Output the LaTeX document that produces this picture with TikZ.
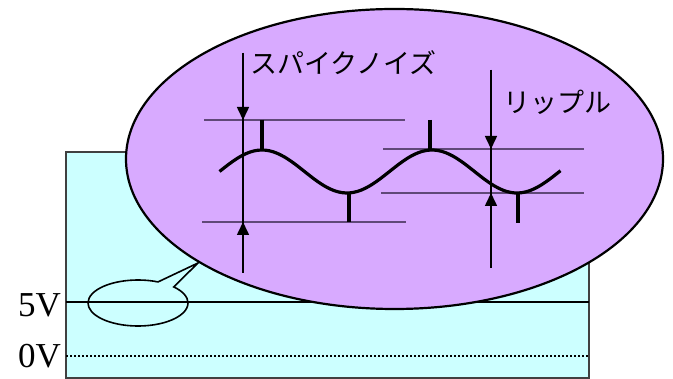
\documentclass[tikz,border=0pt]{standalone}
\usepackage{fontspec}
\setmainfont{Liberation Serif}
\newfontfamily\jpfont{Noto Sans CJK JP}
\usepackage{tikz}
\usetikzlibrary{arrows.meta,shapes.geometric,shapes.callouts}
\definecolor{ns@cyan}{RGB}{204, 255, 255}
\definecolor{ns@violet}{RGB}{216, 170, 255}
\definecolor{ns@level}{RGB}{96, 72, 120}
\definecolor{ns@frame}{RGB}{64, 64, 64}

\begin{document}
\begin{tikzpicture}[x=1pt, y=-1pt,
  board/.style = {draw=ns@frame, fill=ns@cyan, line width=1.6pt},
  rail/.style  = {line width=1.6pt},
  gnd/.style   = {line width=1.6pt, dash pattern=on 1.6pt off 2.4pt},
  lens/.style  = {ellipse, draw, fill=ns@violet, line width=2.2pt, inner sep=0pt,
                  minimum width=537pt, minimum height=300pt},
  loupe/.style = {ellipse callout, draw, line width=1.6pt, inner sep=0pt,
                  minimum width=100pt, minimum height=46pt, callout pointer arc=22},
  level/.style = {draw=ns@level, line width=1.7pt},
  wave/.style  = {line width=3.2pt},
  tick/.style  = {line width=3.6pt},
  dim/.style   = {-{Triangle[length=13pt,width=12pt]}, line width=1.6pt},
  volt/.style  = {font=\fontsize{35}{35}\selectfont, inner sep=0pt, anchor=base east},
  jp/.style    = {font=\jpfont\fontsize{27}{27}\selectfont, inner sep=0pt, anchor=west},
]
  \useasboundingbox (0,0) rectangle (673,379);

  % supply rails
  \draw[board] (66,152) rectangle (589,378);
  \draw[rail] (66,302) -- (589,302);
  \draw[gnd]  (66,356) -- (589,356);
  \node[volt] (v5) at (61,317) {5V};
  \node[volt] (v0) at (61,368) {0V};

  \node[loupe, callout absolute pointer={(198,263)}] (spot) at (138,303) {};
  \node[lens] (lens) at (394.5,159) {};

  % magnified view
  \draw[level] (204,120) -- (405,120);
  \draw[level] (202,222) -- (406,222);
  \draw[level] (383,149) -- (584,149);
  \draw[level] (381,193) -- (584,193);

  \draw[wave] plot[domain=219.5:560.5, samples=90, smooth]
              (\x, {171.5 - 21.5*cos(2.1176*(\x-262))});
  \draw[tick] (262,120) -- (262,150);
  \draw[tick] (349,193) -- (349,222);
  \draw[tick] (430,120) -- (430,150);
  \draw[tick] (518,193) -- (518,223);

  \coordinate (sptop) at (243,53);
  \coordinate (sphi)  at (243,120);
  \coordinate (splo)  at (243,222);
  \coordinate (spbot) at (243,273);
  \coordinate (rptop) at (491,70);
  \coordinate (rphi)  at (491,149);
  \coordinate (rplo)  at (491,193);
  \coordinate (rpbot) at (491,268);

  \draw[rail] (sptop) -- (spbot);
  \draw[dim]  (sptop) -- (sphi);
  \draw[dim]  (spbot) -- (splo);
  \draw[rail] (rptop) -- (rpbot);
  \draw[dim]  (rptop) -- (rphi);
  \draw[dim]  (rpbot) -- (rplo);

  \node[jp] (spike)  at (250,63)  {スパイクノイズ};
  \node[jp] (ripple) at (503,102) {リップル};
\end{tikzpicture}
\end{document}
